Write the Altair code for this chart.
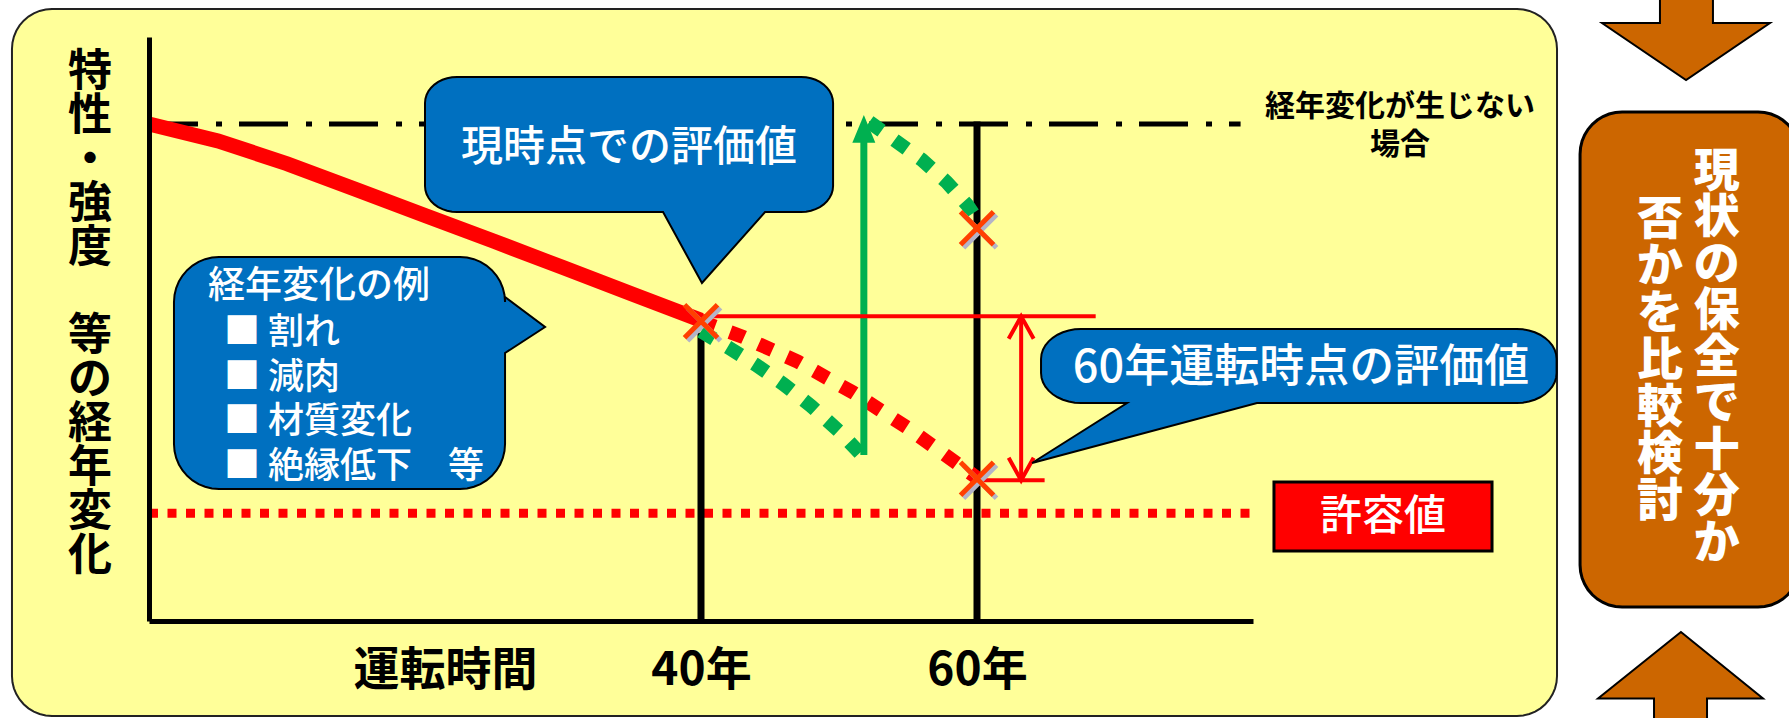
import math
import altair as alt
import pandas as pd

FONT = "Noto Sans CJK JP"

# ---- values: operating years (x) against property level (y, no ageing = 100) ----
aging_years = [0, 5, 10, 15, 20, 25, 30, 35, 40]
aging_level = [100, 96.6, 92, 86.8, 81.6, 76.4, 71.1, 65.8, 60.5]

forecast_years = [40, 43, 47, 51, 55, 60]
forecast_level = [60.3, 57.2, 52.2, 46, 38.8, 28.8]

measured_years = [40, 42, 44, 46, 48, 50, 51.5]
measured_level = [58.3, 55, 51.5, 47.6, 43.2, 38.2, 33.8]

restored_years = [52.2, 54.2, 56, 57.8, 59.3, 60.3]
restored_level = [100.4, 96.4, 92.8, 88.3, 83.7, 79.5]

eval_years = [40, 60, 60]
eval_level = [60.3, 79.0, 28.6]

milestone_years = [40, 60]
milestone_top = [58, 100.5]

no_aging_level = 100
no_aging_end = 79.1
allowable_level = 21.7
allowable_end = 80
current_level = 61.3
current_line_end = 68.6
level_at_60 = 28.3
level_60_line_end = 64.9
gap_year = 63.2
maintenance_year = 51.8
maintenance_from = 33.4
maintenance_to = 101.8

# ---- texts ----
x_title = "運転時間"
y_title_parts = ["特性・強度", "等の経年変化"]
now_text = "現時点での評価値"
examples_title = "経年変化の例"
examples_items = ["■ 割れ", "■ 減肉", "■ 材質変化", "■ 絶縁低下　等"]
sixty_text = "60年運転時点の評価値"
allow_text = "許容値"
no_aging_text = ["経年変化が生じない", "場合"]
verdict_right = "現状の保全で十分か"
verdict_left = "否かを比較検討"

# ---- annotation geometry in chart units: [x_left, x_right, y_bottom, y_top] ----
panel_box = [-9.93, 102.03, -19.11, 123.14]
now_box = [20.0, 49.57, 82.29, 109.46]
now_tail = [(44.64, 82.29), (40.07, 68.0), (37.25, 82.29)]
examples_box = [1.81, 25.8, 26.56, 73.24]
examples_tail = [(25.8, 65.19), (28.7, 59.15), (25.8, 53.92)]
sixty_box = [64.64, 102.0, 43.86, 58.75]
sixty_tail = [(80.29, 43.86), (63.99, 31.79), (70.87, 43.86)]
allow_box = [81.52, 97.32, 14.08, 27.97]
verdict_box = [103.70, 119.64, 2.8, 102.41]
down_arrow = [(109.49, 126.0), (113.33, 126.0), (113.33, 120.32), (117.46, 120.32),
              (111.38, 108.85), (105.29, 120.32), (109.49, 120.32)]
up_arrow = [(111.01, -2.2), (116.96, -15.6), (112.90, -15.6), (112.90, -21.0),
            (109.06, -21.0), (109.06, -15.6), (105.0, -15.6)]

# ---- scales / plot frame ----
PLOT_W, PLOT_H = 1104, 584
X_DOMAIN = [0, 80]
Y_DOMAIN = [0, 117.5]
PX_X = PLOT_W / (X_DOMAIN[1] - X_DOMAIN[0])
PX_Y = PLOT_H / (Y_DOMAIN[1] - Y_DOMAIN[0])

RED = "#FF0000"
GREEN = "#00B050"
BLUE = "#0070C0"
ORANGE = "#CC6600"
YELLOW = "#FFFF99"
XMARK = "#FF4000"

xs = alt.Scale(domain=X_DOMAIN, nice=False, zero=False)
ys = alt.Scale(domain=Y_DOMAIN, nice=False, zero=False)

x_axis = alt.Axis(
    values=milestone_years, labelExpr="datum.value + '年'", ticks=False, tickSize=0,
    grid=False, domainColor="black", domainWidth=5, labelFont=FONT, labelFontSize=46,
    labelFontWeight="bold", labelColor="black", labelPadding=49, labelBaseline="middle",
    labelFlush=False, labelOverlap=False, title=x_title, titleFont=FONT,
    titleFontSize=46, titleFontWeight="bold", titleColor="black", titleX=296,
    titleY=49, titleAlign="center", titleBaseline="middle", zindex=1,
)
y_axis = alt.Axis(
    ticks=False, tickSize=0, labels=False, grid=False, domainColor="black",
    domainWidth=5, title=None, zindex=1,
)


def X(field="x"):
    return alt.X(field, type="quantitative", scale=xs, axis=x_axis)


def Y(field="y"):
    return alt.Y(field, type="quantitative", scale=ys, axis=y_axis)


def rounded_outline(box, rx_px, ry_px, tail_right=None, tail_bottom=None, n=10):
    x0, x1, y0, y1 = box
    rx, ry = rx_px / PX_X, ry_px / PX_Y
    pts = []

    def arc(cx, cy, a0, a1):
        for i in range(n + 1):
            a = math.radians(a0 + (a1 - a0) * i / n)
            pts.append((cx + rx * math.cos(a), cy + ry * math.sin(a)))

    arc(x1 - rx, y1 - ry, 90, 0)
    if tail_right:
        pts.extend(tail_right)
    arc(x1 - rx, y0 + ry, 0, -90)
    if tail_bottom:
        pts.extend(tail_bottom)
    arc(x0 + rx, y0 + ry, -90, -180)
    arc(x0 + rx, y1 - ry, 180, 90)
    return pts


def polygon(pts, fill, stroke, width):
    df = pd.DataFrame({"x": [p[0] for p in pts], "y": [p[1] for p in pts],
                       "i": list(range(len(pts)))})
    return alt.Chart(df).mark_line(
        interpolate="linear-closed", fill=fill, stroke=stroke, strokeWidth=width,
        strokeJoin="miter", clip=False,
    ).encode(x=X(), y=Y(), order="i:Q")


def path(xv, yv, color, width, dash=None, cap="butt"):
    df = pd.DataFrame({"x": xv, "y": yv, "i": list(range(len(xv)))})
    kw = dict(color=color, strokeWidth=width, strokeCap=cap, clip=False)
    if dash:
        kw["strokeDash"] = dash
    return alt.Chart(df).mark_line(**kw).encode(x=X(), y=Y(), order="i:Q")


def vrule(xv, y0, y1, color, width):
    df = pd.DataFrame({"x": xv, "y": y0, "y2": y1})
    return alt.Chart(df).mark_rule(color=color, strokeWidth=width, strokeCap="butt",
                                   clip=False).encode(x=X(), y=Y(), y2="y2:Q")


def symbol(xv, yv, shape, size, color, width=0, filled=False, dx=0, dy=0):
    df = pd.DataFrame({"x": xv, "y": yv})
    kw = dict(shape=shape, size=size, opacity=1, clip=False, xOffset=dx, yOffset=dy)
    if filled:
        kw.update(filled=True, fill=color, strokeWidth=0)
    else:
        kw.update(filled=False, stroke=color, strokeWidth=width, strokeJoin="miter")
    return alt.Chart(df).mark_point(**kw).encode(x=X(), y=Y())


def label(xv, yv, text, size, color="white", weight="normal", align="center", lh=None):
    # multi-line texts: (xv, yv) is the centre of the first line
    df = pd.DataFrame({"x": [xv], "y": [yv], "t": [text]})
    kw = dict(font=FONT, fontSize=size, color=color, fontWeight=weight, align=align,
              baseline="middle", lineBreak="\n", clip=False)
    if lh:
        kw["lineHeight"] = lh
    return alt.Chart(df).mark_text(**kw).encode(x=X(), y=Y(), text="t:N")


def vertical(s):
    return "\n".join(s)


X_PATH = "M -1 -1 L 1 1 M -1 1 L 1 -1"
HEAD_UP = "M 0 0 L 1 2.4 L -1 2.4 Z"
CHEVRON_UP = "M -1 1.8 L 0 0 L 1 1.8"
CHEVRON_DOWN = "M -1 -1.8 L 0 0 L 1 -1.8"

layers = [
    # background panel and the comparison box on the right
    polygon(rounded_outline(panel_box, 40, 40), YELLOW, "#222222", 2),
    polygon(down_arrow, ORANGE, "black", 2),
    polygon(up_arrow, ORANGE, "black", 2),
    polygon(rounded_outline(verdict_box, 42, 42), ORANGE, "black", 3),
    # reference levels
    path([0, allowable_end], [allowable_level] * 2, RED, 9, dash=[9, 9.5]),
    path([0, no_aging_end], [no_aging_level] * 2, "black", 5, dash=[49, 18, 6, 17]),
    vrule(milestone_years, milestone_top, [0, 0], "black", 7),
    # ageing curves
    path(aging_years, aging_level, RED, 15),
    path(forecast_years, forecast_level, RED, 14, dash=[15, 16]),
    path(measured_years, measured_level, GREEN, 14, dash=[15, 16]),
    path(restored_years, restored_level, GREEN, 14, dash=[15, 16]),
    vrule([maintenance_year], [maintenance_from], [97.0], GREEN, 7),
    symbol([maintenance_year], [maintenance_to], HEAD_UP, 529, GREEN, filled=True),
    # margin between current value and 60-year value
    path([40, current_line_end], [current_level] * 2, RED, 4),
    path([60, level_60_line_end], [level_at_60] * 2, RED, 4),
    vrule([gap_year], [level_at_60], [current_level], RED, 4),
    symbol([gap_year], [current_level], CHEVRON_UP, 625, RED, width=4),
    symbol([gap_year], [level_at_60], CHEVRON_DOWN, 625, RED, width=4),
    # evaluation points
    symbol(eval_years, eval_level, X_PATH, 1089, "#B4B4C8", width=5, dx=3, dy=3),
    symbol(eval_years, eval_level, X_PATH, 1089, XMARK, width=5),
    # callouts
    polygon(rounded_outline(now_box, 32, 26, tail_bottom=now_tail), BLUE, "black", 2),
    polygon(rounded_outline(examples_box, 45, 45, tail_right=examples_tail), BLUE, "black", 2),
    polygon(rounded_outline(sixty_box, 40, 30, tail_bottom=sixty_tail), BLUE, "black", 2),
    polygon([(allow_box[0], allow_box[2]), (allow_box[1], allow_box[2]),
             (allow_box[1], allow_box[3]), (allow_box[0], allow_box[3])], RED, "black", 3),
    # vertical axis title, written top to bottom
    label(-4.28, 110.26, vertical(y_title_parts[0]), 44, color="black", weight="bold", lh=44),
    label(-4.28, 57.14, vertical(y_title_parts[1]), 44, color="black", weight="bold", lh=44),
    # annotation texts
    label(34.78, 95.17, now_text, 42, weight=500),
    label(4.28, 67.2, examples_title, 37, align="left", weight=500),
    label(5.43, 57.95, "\n".join(examples_items), 36, align="left", weight=500, lh=44.7),
    label(83.48, 50.9, sixty_text, 45, weight=500),
    label(89.42, 20.93, allow_text, 42, weight=500),
    label(90.65, 103.42, "\n".join(no_aging_text), 30, color="black", weight="bold", lh=38),
    label(113.6, 90.34, vertical(verdict_right), 46, weight=900, lh=46.5),
    label(109.5, 80.68, vertical(verdict_left), 46, weight=900, lh=47),
]

chart = alt.layer(*layers).properties(
    width=PLOT_W,
    height=PLOT_H,
    padding={"left": 149, "top": 37, "right": 536, "bottom": 97},
    autosize=alt.AutoSizeParams(type="none"),
    background="white",
).configure_view(stroke=None)

chart.save("out.html", embed_options={"renderer": "svg", "actions": False})
